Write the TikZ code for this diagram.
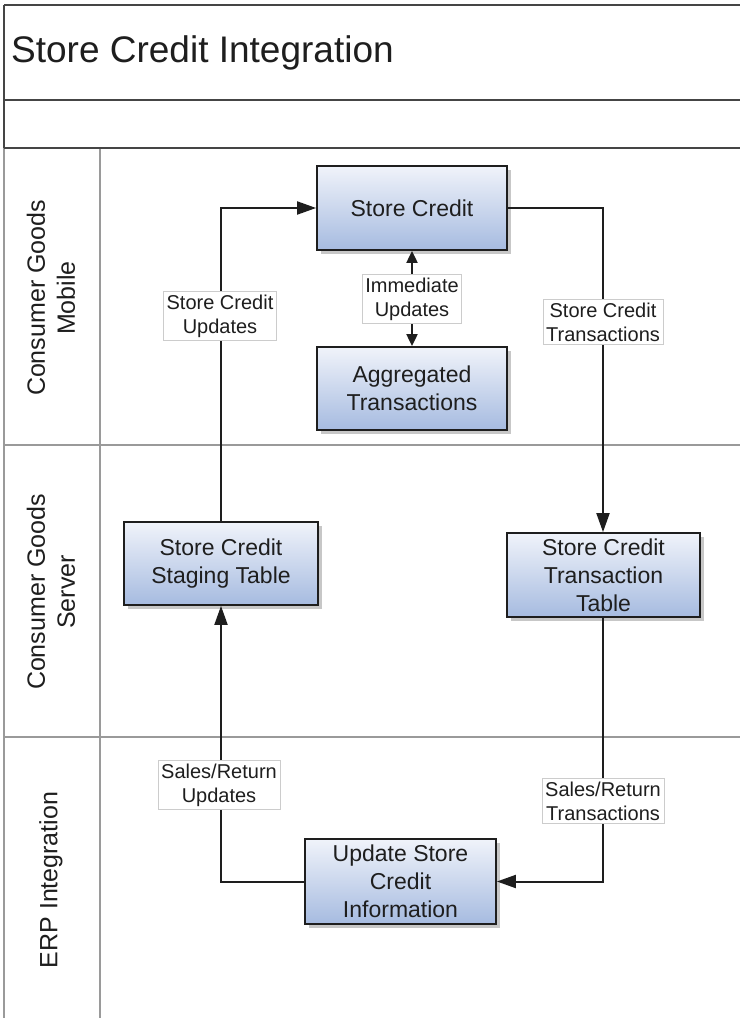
\documentclass[tikz,border=0pt]{standalone}
\usepackage{fontspec}
\setmainfont{Liberation Sans}
\usetikzlibrary{arrows.meta,shadows}

\definecolor{boxtop}{HTML}{F0F3FA}
\definecolor{boxbot}{HTML}{A6BBE0}
\definecolor{ink}{HTML}{1E1E1E}
\definecolor{framecol}{HTML}{454545}
\definecolor{lanecol}{HTML}{9A9A9A}

\tikzset{
  procbox/.style={draw=ink, line width=1.8pt, top color=boxtop, bottom color=boxbot,
    text=ink, align=center, font=\fontsize{23}{28}\selectfont, inner sep=0pt,
    drop shadow={shadow xshift=4pt, shadow yshift=-4pt, fill=black!40, opacity=.55}},
  flowlabel/.style={draw=black!20, line width=0.6pt, fill=white, text=ink,
    align=center, font=\fontsize{20}{24}\selectfont, inner sep=3pt},
  flow/.style={draw=ink, line width=2pt, -{Triangle[length=19pt,width=13pt]}},
  twoway/.style={draw=ink, line width=2pt,
    {Triangle[length=12pt,width=11pt]}-{Triangle[length=12pt,width=11pt]}},
  lanetitle/.style={rotate=90, text=ink, align=center, font=\fontsize{25}{30}\selectfont},
  titlerule/.style={draw=framecol, line width=1.5pt},
  lanerule/.style={draw=lanecol, line width=1.2pt},
}

\begin{document}
\begin{tikzpicture}[x=1pt, y=-1pt]
\useasboundingbox[fill=white] (0,0) rectangle (740,1022);

% pool frame and title rows
\draw[lanerule] (4,5) -- (4,1018);
\draw[lanerule] (100,148) -- (100,1018);
\draw[lanerule] (4,445) -- (740,445);
\draw[lanerule] (4,737) -- (740,737);
\draw[titlerule] (4,5) -- (740,5);
\draw[titlerule] (4,100) -- (740,100);
\draw[titlerule] (4,148) -- (740,148);
\draw[titlerule] (4,5) -- (4,148);

\node[anchor=base west, text=ink, font=\fontsize{37}{40}\selectfont, inner sep=0pt]
  (title) at (11,63) {Store Credit Integration};

% lane headings
\node[lanetitle] (laneA) at (51,298) {Consumer Goods\\Mobile};
\node[lanetitle] (laneB) at (51,592) {Consumer Goods\\Server};
\node[lanetitle] (laneC) at (51,880) {ERP Integration};

% process boxes
\node[procbox, minimum width=190pt, minimum height=84pt] (sc) at (412,208) {Store Credit};
\node[procbox, minimum width=190pt, minimum height=83pt] (agg) at (412,388.5) {Aggregated\\Transactions};
\node[procbox, minimum width=194pt, minimum height=83pt] (stg) at (221,563.5) {Store Credit\\Staging Table};
\node[procbox, minimum width=193pt, minimum height=84pt] (tt) at (603.5,575) {Store Credit\\Transaction\\Table};
\node[procbox, minimum width=191pt, minimum height=85pt] (upd) at (400.5,881.5) {Update Store\\Credit\\Information};

% flows
\draw[flow] (stg.north -| 221,0) |- (sc.west);
\draw[flow] (sc.east) -| (tt.north -| 603,0);
\draw[flow] (tt.south -| 603,0) |- (upd.east);
\draw[flow] (upd.west) -| (stg.south -| 221,0);
\draw[twoway] (sc.south) -- (agg.north);

% flow labels
\node[flowlabel] (lblA) at (220,316) {Store Credit\\Updates};
\node[flowlabel] (lblB) at (603,322) {Store Credit\\Transactions};
\node[flowlabel] (lblC) at (412,299) {Immediate\\Updates};
\node[flowlabel] (lblD) at (219,785) {Sales/Return\\Updates};
\node[flowlabel] (lblE) at (603,801) {Sales/Return\\Transactions};
\end{tikzpicture}
\end{document}
